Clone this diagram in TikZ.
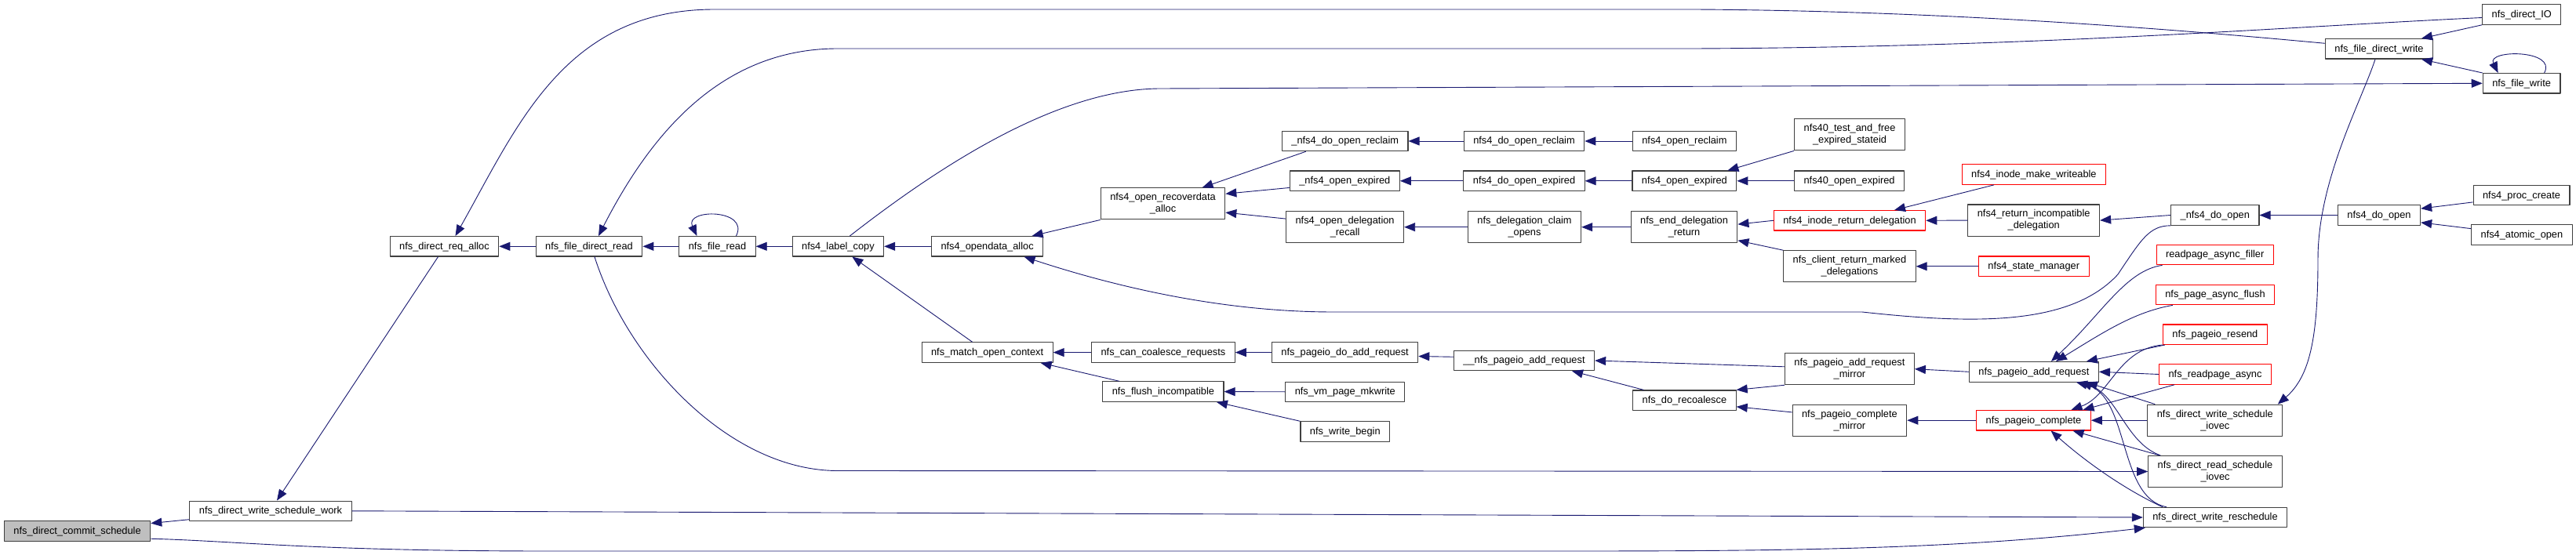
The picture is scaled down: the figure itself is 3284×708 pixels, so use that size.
\documentclass[tikz,border=0pt]{standalone}
\usepackage{fontspec}
\setmainfont{Liberation Sans}
\usetikzlibrary{arrows.meta}
\definecolor{callblue}{RGB}{25,25,112}
\definecolor{boxgray}{RGB}{191,191,191}
\begin{document}
\begin{tikzpicture}[x=1pt, y=-1pt, font=\fontsize{12.8}{15}\selectfont, line join=round, >={Triangle[length=14pt,width=11pt]},
	fn/.style={draw=black!75, fill=white, line width=1.1pt, minimum height=25.5pt, inner xsep=12pt, inner ysep=0pt, text height=9.6pt, text depth=1.8pt},
	fnred/.style={fn, draw=red},
	fntwo/.style={draw=black!75, fill=white, line width=1.1pt, inner xsep=12pt, inner ysep=6.6pt, align=center},
	call/.style={draw=callblue, line width=0.9pt, <-}]
	\path[fill=white] (0,0) rectangle (3284,708);
	\node[fn, fill=boxgray] (commit) at (98.6,677.4) {nfs\_direct\_commit\_schedule};
	\node[fn] (wsw) at (345,651.8) {nfs\_direct\_write\_schedule\_work};
	\node[fn] (reqalloc) at (566.5,314.3) {nfs\_direct\_req\_alloc};
	\node[fn] (fdread) at (751,314.3) {nfs\_file\_direct\_read};
	\node[fn] (fread) at (914.5,314.3) {nfs\_file\_read};
	\node[fn] (labelcopy) at (1068.4,314.3) {nfs4\_label\_copy};
	\node[fn] (opendata) at (1258.6,314.3) {nfs4\_opendata\_alloc};
	\node[fntwo] (recover) at (1482.5,259.9) {nfs4\_open\_recoverdata\\\_alloc};
	\node[fn] (matchctx) at (1258.6,449.6) {nfs\_match\_open\_context};
	\node[fn] (coalesce) at (1482.9,449.6) {nfs\_can\_coalesce\_requests};
	\node[fn] (flushinc) at (1482.9,499.6) {nfs\_flush\_incompatible};
	\node[fn] (doreclaimu) at (1714.7,180) {\_nfs4\_do\_open\_reclaim};
	\node[fn] (openexpu) at (1714.3,230.8) {\_nfs4\_open\_expired};
	\node[fntwo] (delegrecall) at (1714.6,289.7) {nfs4\_open\_delegation\\\_recall};
	\node[fn] (doaddreq) at (1714.6,449.6) {nfs\_pageio\_do\_add\_request};
	\node[fn] (mkwrite) at (1714.8,499.8) {nfs\_vm\_page\_mkwrite};
	\node[fn] (wbegin) at (1714.8,550.6) {nfs\_write\_begin};
	\node[fn] (doreclaim) at (1943,180) {nfs4\_do\_open\_reclaim};
	\node[fn] (doexpired) at (1943,230.8) {nfs4\_do\_open\_expired};
	\node[fntwo] (claimopens) at (1943.5,289.7) {nfs\_delegation\_claim\\\_opens};
	\node[fn] (uaddreq) at (1943,460) {\_\_nfs\_pageio\_add\_request};
	\node[fn] (openreclaim) at (2147.4,180) {nfs4\_open\_reclaim};
	\node[fn] (openexpired) at (2147.4,230.8) {nfs4\_open\_expired};
	\node[fntwo] (enddeleg) at (2147,289.7) {nfs\_end\_delegation\\\_return};
	\node[fn] (recoalesce) at (2147.4,510.7) {nfs\_do\_recoalesce};
	\node[fntwo] (testfree) at (2358,171.8) {nfs40\_test\_and\_free\\\_expired\_stateid};
	\node[fn] (open40) at (2357.6,230.8) {nfs40\_open\_expired};
	\node[fnred] (inoderet) at (2358,281.3) {nfs4\_inode\_return\_delegation};
	\node[fntwo] (marked) at (2357.9,339.8) {nfs\_client\_return\_marked\\\_delegations};
	\node[fntwo] (addmirror) at (2357.9,470.7) {nfs\_pageio\_add\_request\\\_mirror};
	\node[fntwo] (complmirror) at (2357.9,536.2) {nfs\_pageio\_complete\\\_mirror};
	\node[fnred] (makewr) at (2592.9,222.6) {nfs4\_inode\_make\_writeable};
	\node[fntwo] (retincompat) at (2592.7,281.1) {nfs4\_return\_incompatible\\\_delegation};
	\node[fnred] (statemgr) at (2592.7,339.8) {nfs4\_state\_manager};
	\node[fn] (addreq) at (2592.9,474.3) {nfs\_pageio\_add\_request};
	\node[fnred] (complete) at (2592.5,536.2) {nfs\_pageio\_complete};
	\node[fn] (udoopen) at (2823.8,274.5) {\_nfs4\_do\_open};
	\node[fnred] (filler) at (2823.7,325.1) {readpage\_async\_filler};
	\node[fnred] (asyncflush) at (2824,376.1) {nfs\_page\_async\_flush};
	\node[fnred] (resend) at (2823.9,426.7) {nfs\_pageio\_resend};
	\node[fnred] (rpasync) at (2824,477.5) {nfs\_readpage\_async};
	\node[fntwo] (wsiovec) at (2823.8,536.2) {nfs\_direct\_write\_schedule\\\_iovec};
	\node[fntwo] (rsiovec) at (2824,601.5) {nfs\_direct\_read\_schedule\\\_iovec};
	\node[fn] (wresched) at (2824,660) {nfs\_direct\_write\_reschedule};
	\node[fn] (fdwrite) at (3033,62.3) {nfs\_file\_direct\_write};
	\node[fn] (doopen) at (3033,274.5) {nfs4\_do\_open};
	\node[fn] (directio) at (3214.7,18.5) {nfs\_direct\_IO};
	\node[fn] (fwrite) at (3214.6,106.3) {nfs\_file\_write};
	\node[fn] (proccreate) at (3214.5,249.2) {nfs4\_proc\_create};
	\node[fn] (atomicopen) at (3214.9,299.6) {nfs4\_atomic\_open};

	\draw[call] (commit.6) -- (wsw.186);
	\draw[call] ([xshift=3pt]wresched.south west) .. controls (2500,700) and (2300,703) .. (2000,703) -- (700,703) .. controls (400,703) and (300,690) .. (commit.-6);
	\draw[call] (wresched.west) -- (wsw.east);
	\draw[call] ([xshift=8pt]wsw.north) -- ([xshift=-8pt]reqalloc.south);
	\draw[call] (reqalloc.east) -- (fdread.west);
	\draw[call] ([xshift=14pt]reqalloc.north) .. controls (660,160) and (720,12) .. (911,12) -- (2160,12) .. controls (2500,14) and (2800,40) .. ([yshift=7pt]fdwrite.west);
	\draw[call] (fdread.east) -- (fread.west);
	\draw[call] ([xshift=12pt]fdread.north) .. controls (830,170) and (920,62) .. (1068,62) -- (2160,62) .. controls (2600,60) and (2900,35) .. ([yshift=-4pt]directio.west);
	\draw[call] (rsiovec.west) -- (1068,600.5) .. controls (930,600.5) and (800,460) .. ([xshift=7pt]fdread.south);
	\draw[call] ([xshift=-26pt]fread.north) .. controls (872,266) and (956,266) .. ([xshift=24pt]fread.north);
	\draw[call] (fread.east) -- (labelcopy.west);
	\draw[call] (labelcopy.east) -- (opendata.west);
	\draw[call] ([xshift=18pt]labelcopy.south) -- ([xshift=-19pt]matchctx.north);
	\draw[call] (fwrite.west) -- (1480,113) .. controls (1350,113) and (1200,210) .. ([xshift=15pt]labelcopy.north);
	\draw[call] ([xshift=57pt]opendata.north) -- (recover.south west);
	\draw[call] ([xshift=47pt]opendata.south) .. controls (1450,375) and (1580,398) .. (1700,398) -- (2374,398) .. controls (2520,414) and (2640,415) .. (2700,350) .. controls (2730,305) and (2740,288) .. (udoopen.south west);
	\draw[call] ([xshift=50pt]recover.north) -- ([xshift=-50pt]doreclaimu.south);
	\draw[call] (recover.9) -- (openexpu.187);
	\draw[call] (recover.-8) -- (delegrecall.172);
	\draw[call] (doreclaimu.east) -- (doreclaim.west);
	\draw[call] (doreclaim.east) -- (openreclaim.west);
	\draw[call] (openexpu.east) -- (doexpired.west);
	\draw[call] (doexpired.east) -- (openexpired.west);
	\draw[call] ([xshift=55pt]openexpired.north) -- (testfree.south west);
	\draw[call] (openexpired.east) -- (open40.west);
	\draw[call] (delegrecall.east) -- (claimopens.west);
	\draw[call] (claimopens.east) -- (enddeleg.west);
	\draw[call] (enddeleg.3) -- (inoderet.west);
	\draw[call] (enddeleg.-14) -- (marked.north west);
	\draw[call] ([xshift=57pt]inoderet.north) -- ([xshift=-51pt]makewr.south);
	\draw[call] (inoderet.east) -- (retincompat.west);
	\draw[call] (marked.east) -- (statemgr.west);
	\draw[call] (retincompat.east) -- (udoopen.west);
	\draw[call] (udoopen.east) -- (doopen.west);
	\draw[call] (doopen.9) -- (proccreate.188);
	\draw[call] (doopen.-10) -- (atomicopen.173);
	\draw[call] (matchctx.east) -- (coalesce.west);
	\draw[call] ([xshift=68pt]matchctx.south) -- ([xshift=-56pt]flushinc.north);
	\draw[call] (coalesce.east) -- (doaddreq.west);
	\draw[call] (flushinc.east) -- (mkwrite.west);
	\draw[call] ([xshift=68pt]flushinc.south) -- (wbegin.north west);
	\draw[call] (doaddreq.-3) -- (uaddreq.177);
	\draw[call] (uaddreq.east) -- (addmirror.178);
	\draw[call] ([xshift=61pt]uaddreq.south) -- ([xshift=-52pt]recoalesce.north);
	\draw[call] (recoalesce.north east) -- (addmirror.south west);
	\draw[call] (recoalesce.-7) -- (complmirror.172);
	\draw[call] (addmirror.east) -- (addreq.west);
	\draw[call] (complmirror.east) -- (complete.west);
	\draw[call] ([xshift=22pt]addreq.north) .. controls (2680,400) and (2710,345) .. ([xshift=8pt]filler.south west);
	\draw[call] ([xshift=28pt]addreq.north) .. controls (2680,425) and (2720,398) .. ([xshift=22pt]asyncflush.south west);
	\draw[call] ([xshift=67pt]addreq.north) -- ([xshift=3pt]resend.south west);
	\draw[call] (addreq.east) -- (rpasync.west);
	\draw[call] ([xshift=67pt]addreq.south) -- ([xshift=10pt]wsiovec.north west);
	\draw[call] ([xshift=60pt]addreq.south) .. controls (2700,505) and (2710,565) .. ([xshift=16pt]rsiovec.north west);
	\draw[call] ([xshift=54pt]addreq.south) .. controls (2715,505) and (2700,635) .. ([xshift=30pt]wresched.north west);
	\draw[call] ([xshift=48pt]complete.north) .. controls (2690,505) and (2700,445) .. (resend.south west);
	\draw[call] ([xshift=63pt]complete.north) -- ([xshift=20pt]rpasync.south west);
	\draw[call] (complete.east) -- (wsiovec.west);
	\draw[call] ([xshift=50pt]complete.south) -- ([xshift=15pt]rsiovec.north west);
	\draw[call] ([xshift=22pt]complete.south) .. controls (2660,590) and (2710,625) .. ([xshift=25pt]wresched.north west);
	\draw[call] ([xshift=80pt]wsiovec.north) .. controls (2945,480) and (2955,430) .. (2955,330) .. controls (2955,230) and (3010,130) .. ([xshift=-5pt]fdwrite.south);
	\draw[call] ([xshift=54pt]fdwrite.north) -- (directio.south west);
	\draw[call] ([xshift=54pt]fdwrite.south) -- (fwrite.north west);
	\draw[call] ([xshift=-30pt]fwrite.north) .. controls (3170,63) and (3260,63) .. ([xshift=29pt]fwrite.north);
\end{tikzpicture}
\end{document}
